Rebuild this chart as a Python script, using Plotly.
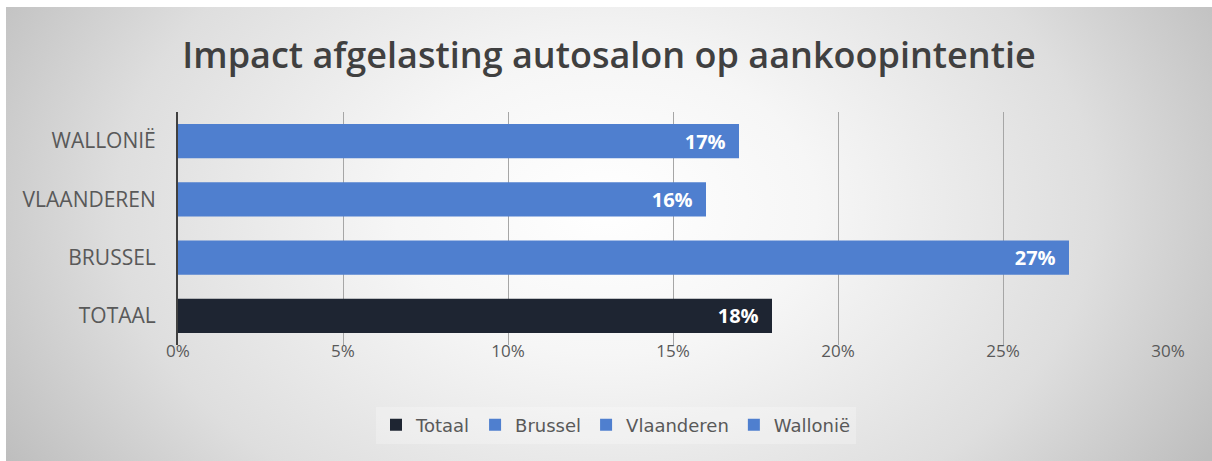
import plotly.graph_objects as go
import urllib.parse

W, H = 1212, 461

categories = ["Totaal", "Brussel", "Vlaanderen", "Wallonië"]
tick_labels = ["TOTAAL", "BRUSSEL", "VLAANDEREN", "WALLONIË"]
values = [0.18, 0.27, 0.16, 0.17]
colors = ["#1E2532", "#4F7FCF", "#4F7FCF", "#4F7FCF"]
x_ticks = [0, 0.05, 0.10, 0.15, 0.20, 0.25, 0.30]
x_tick_labels = ["0%", "5%", "10%", "15%", "20%", "25%", "30%"]
title = "Impact afgelasting autosalon op aankoopintentie"

fig = go.Figure()
for cat, val, col in zip(categories, values, colors):
    fig.add_trace(go.Bar(
        y=[cat], x=[val], name=cat, orientation="h",
        marker=dict(color=col, line=dict(width=0)),
        width=0.59,
        texttemplate="%{x:.0%}\u00a0\u00a0",
        textposition="inside", insidetextanchor="end",
        textfont=dict(family="Open Sans", size=20, color="white", weight=700),
        cliponaxis=False,
    ))

svg = ("<svg xmlns='http://www.w3.org/2000/svg' width='1206' height='454' preserveAspectRatio='none'>"
       "<defs><radialGradient id='g' gradientUnits='userSpaceOnUse' cx='600' cy='200' r='700' "
       "gradientTransform='translate(600,200) scale(1,0.7) translate(-600,-200)'>"
       "<stop offset='0' stop-color='#ffffff'/>"
       "<stop offset='0.3' stop-color='#f6f6f6'/>"
       "<stop offset='0.7' stop-color='#dedede'/>"
       "<stop offset='1' stop-color='#bebebe'/>"
       "</radialGradient></defs>"
       "<rect width='1206' height='454' fill='url(#g)'/></svg>")
data_uri = "data:image/svg+xml;charset=utf-8," + urllib.parse.quote(svg)

fig.update_layout(
    width=W, height=H,
    margin=dict(l=0, r=0, t=0, b=0),
    paper_bgcolor="white",
    plot_bgcolor="rgba(0,0,0,0)",
    barmode="overlay",
    showlegend=True,
    title=dict(text=title, x=609 / W, xanchor="center", y=(H - 55) / H, yanchor="middle",
               font=dict(family="Open Sans", size=36, color="#404040", weight=600)),
    legend=dict(orientation="h", x=616 / W, xanchor="center", y=(H - 425) / H, yanchor="middle",
                bgcolor="rgba(255,255,255,0.25)", font=dict(family="DejaVu Sans", size=18, color="#595959"),
                traceorder="normal", itemclick=False),
    images=[dict(source=data_uri, xref="paper", yref="paper", x=6 / W, y=1 - 7 / H,
                 sizex=1206 / W, sizey=454 / H, xanchor="left", yanchor="top",
                 sizing="stretch", layer="below")],
    xaxis=dict(domain=[178 / W, 1168 / W], range=[0, 0.30], tickvals=x_ticks, ticktext=x_tick_labels,
               showgrid=True, gridcolor="#a6a6a6", gridwidth=1, zeroline=False, showline=False,
               tickfont=dict(family="Open Sans", size=17, color="#595959"), automargin=False,
               ticks="", ticklabelstandoff=-6),
    yaxis=dict(domain=[(H - 345) / H, (H - 112) / H], categoryorder="array", categoryarray=categories,
               tickvals=categories, ticktext=tick_labels, showgrid=False, zeroline=False,
               showline=True, linecolor="#404040", linewidth=2, ticks="", ticklabelstandoff=16,
               tickfont=dict(family="Open Sans", size=21, color="#595959"), automargin=False),
    font=dict(family="Open Sans"),
)

fig.write_html("out.html", config={"displayModeBar": False},
               post_script="document.body.style.margin='0';document.body.style.overflow='hidden';")
